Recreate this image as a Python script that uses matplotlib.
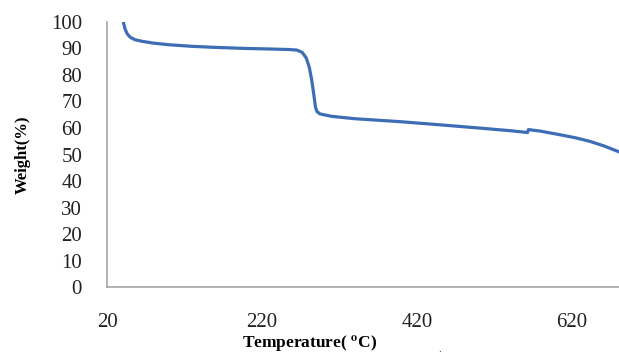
import matplotlib
matplotlib.use('Agg')
import matplotlib.pyplot as plt

# Curva termogravimétrica (temperatura en °C, peso en %)
temperatura = [41, 43, 46, 50, 56, 65, 80, 100, 130, 160, 200, 230, 255, 265,
               272, 277, 281, 284, 287, 289, 291, 295, 310, 340, 398, 450,
               500, 540, 563, 564, 580, 604, 625, 643, 662, 681]
peso = [100, 97.5, 95.5, 94.2, 93.3, 92.7, 92.0, 91.4, 90.8, 90.4, 90.0, 89.8,
        89.6, 89.4, 88.5, 86.5, 83.0, 78.5, 72.5, 68.0, 66.2, 65.3, 64.4,
        63.5, 62.4, 61.2, 60.0, 59.0, 58.3, 59.4, 58.8, 57.5, 56.3, 55.0,
        53.2, 51.0]

ticks_x = [20, 220, 420, 620]
ticks_y = list(range(0, 101, 10))

plt.rcParams['mathtext.fontset'] = 'stix'
serif = 'Liberation Serif'

fig = plt.figure(figsize=(6.19, 3.54), dpi=100)
ax = fig.add_axes([0.173, 0.189, 0.827, 0.749])
ax.plot(temperatura, peso, color='#3D6DB5', linewidth=2.3, solid_capstyle='round')

ax.set_xlim(20, 681)
ax.set_ylim(0, 100)
ax.set_xticks(ticks_x)
ax.set_yticks(ticks_y)
ax.tick_params(length=0)
ax.tick_params(axis='y', pad=18)
ax.tick_params(axis='x', pad=19)
for lab in ax.get_xticklabels() + ax.get_yticklabels():
    lab.set_fontfamily(serif)
    lab.set_fontsize(15)
    lab.set_color('#222222')

for s in ['top', 'right']:
    ax.spines[s].set_visible(False)
for s in ['left', 'bottom']:
    ax.spines[s].set_color('#a6a6a6')
    ax.spines[s].set_linewidth(1.2)

fig.text(0.036, 0.562, 'Weight(%)', rotation=90, ha='center', va='center',
         fontfamily=serif, fontweight='bold', fontsize=12)
fig.text(0.50, 0.001, r'Temperature( $^{\mathbf{o}}$C)', ha='center', va='bottom',
         fontfamily=serif, fontweight='bold', fontsize=12.5)
fig.text(0.71, 0.012, '.', ha='center', va='center', fontfamily=serif,
         fontsize=8, color='#555555')

fig.savefig('out.png', dpi=100)
